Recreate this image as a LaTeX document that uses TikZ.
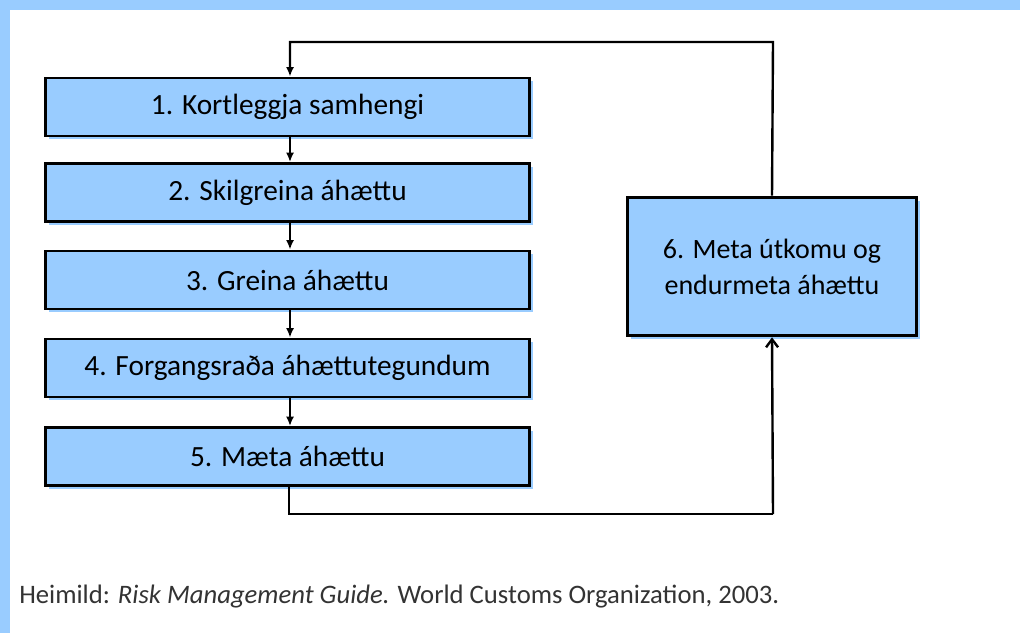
\documentclass[tikz,border=0pt]{standalone}
\usepackage{fontspec}
\setmainfont{Carlito}
\usetikzlibrary{arrows.meta,shadows}
\definecolor{boxblue}{HTML}{99CCFF}
\definecolor{captiongray}{HTML}{333333}
\begin{document}
\begin{tikzpicture}[x=0.75pt,y=-0.75pt,
  stepbox/.style={draw=black,line width=2.2pt,fill=boxblue,
    minimum width=363pt,minimum height=43.5pt,inner sep=0pt,
    font=\fontsize{22}{26}\selectfont,
    drop shadow={shadow xshift=2.5pt,shadow yshift=-2.5pt,fill=boxblue,opacity=1}},
  conn/.style={draw=black,line width=1.8pt},
  tip/.style={-{Latex[length=7pt,width=6pt]}}
]
\useasboundingbox (0,0) rectangle (1020,633);
\fill[white] (0,0) rectangle (1020,633);
\fill[boxblue] (0,0) rectangle (1020,10);
\fill[boxblue] (0,0) rectangle (10,633);

\node[stepbox] (b1) at (287.5,107) {1. Kortleggja samhengi};
\node[stepbox] (b2) at (287.5,192.5) {2. Skilgreina áhættu};
\node[stepbox] (b3) at (287.5,280) {3. Greina áhættu};
\node[stepbox] (b4) at (287.5,368) {4. Forgangsraða áhættutegundum};
\node[stepbox] (b5) at (287.5,456.5) {5. Mæta áhættu};
\node[stepbox,minimum width=217pt,minimum height=104pt,align=center,
  font=\fontsize{21}{27}\selectfont] (b6) at (772,266.5) {6. Meta útkomu og\\endurmeta áhættu};

\coordinate (tl) at (290,42);
\coordinate (tr) at (773,42);
\coordinate (bl) at (289,514);
\coordinate (br) at (773,514);

\draw[conn,tip] (b1.south -| 290,0) -- (b2.north -| 290,0);
\draw[conn,tip] (b2.south -| 290,0) -- (b3.north -| 290,0);
\draw[conn,tip] (b3.south -| 290,0) -- (b4.north -| 290,0);
\draw[conn,tip] (b4.south -| 290,0) -- (b5.north -| 290,0);
\draw[conn] (b5.south -| bl) -- (bl) -- (br);
\draw[conn,-{Straight Barb[length=6pt,width=9pt]}] (br) -- (b6.south);
\draw[conn,tip] (b6.north) -- (tr) -- (tl) -- (b1.north -| tl);

\node[anchor=base west,text=captiongray,font=\fontsize{20}{24}\selectfont,inner sep=0pt] (cap) at (19,603)
  {Heimild: \textit{Risk Management Guide.} World Customs Organization, 2003.};
\end{tikzpicture}
\end{document}
